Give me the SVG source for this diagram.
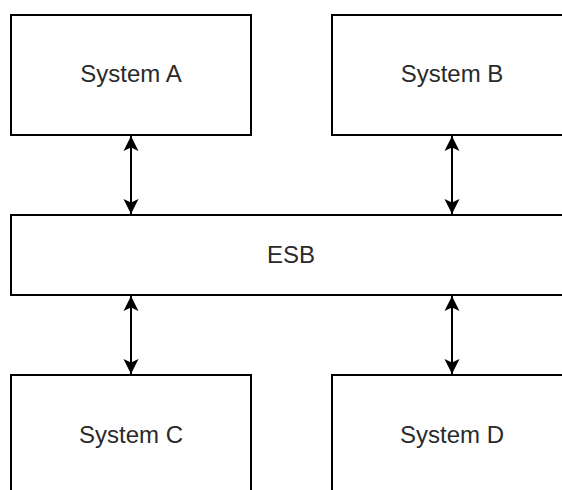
<svg xmlns="http://www.w3.org/2000/svg" width="562" height="490" viewBox="0 0 562 490">
  <style>
    .box { fill: #ffffff; stroke: #000000; stroke-width: 2; }
    .label { font-family: "Liberation Sans", Arial, sans-serif; font-size: 24px; fill: #2a2a2a; text-anchor: middle; }
    .link { stroke: #000000; stroke-width: 2; fill: none; marker-start: url(#head); marker-end: url(#head); }
  </style>
  <defs>
    <marker id="head" markerUnits="userSpaceOnUse" markerWidth="18" markerHeight="18" viewBox="-16 -9 18 18" refX="0" refY="0" orient="auto-start-reverse">
      <path d="M0,0 L-15,-7.5 L-11.5,0 L-15,7.5 Z" fill="#000000"/>
    </marker>
  </defs>
  <rect width="562" height="490" fill="#ffffff"/>

  <g id="system-a">
    <rect class="box" x="11" y="15" width="240" height="120"/>
    <text class="label" x="131" y="82">System A</text>
  </g>
  <g id="system-b">
    <rect class="box" x="332" y="15" width="240" height="120"/>
    <text class="label" x="452" y="82">System B</text>
  </g>
  <g id="esb">
    <rect class="box" x="11" y="215" width="561" height="80"/>
    <text class="label" x="291" y="263">ESB</text>
  </g>
  <g id="system-c">
    <rect class="box" x="11" y="375" width="240" height="120"/>
    <text class="label" x="131" y="443">System C</text>
  </g>
  <g id="system-d">
    <rect class="box" x="332" y="375" width="240" height="120"/>
    <text class="label" x="452" y="443">System D</text>
  </g>

  <g id="connectors">
    <line class="link" x1="131" y1="136" x2="131" y2="214"/>
    <line class="link" x1="452" y1="136" x2="452" y2="214"/>
    <line class="link" x1="131" y1="296" x2="131" y2="374"/>
    <line class="link" x1="452" y1="296" x2="452" y2="374"/>
  </g>
</svg>
